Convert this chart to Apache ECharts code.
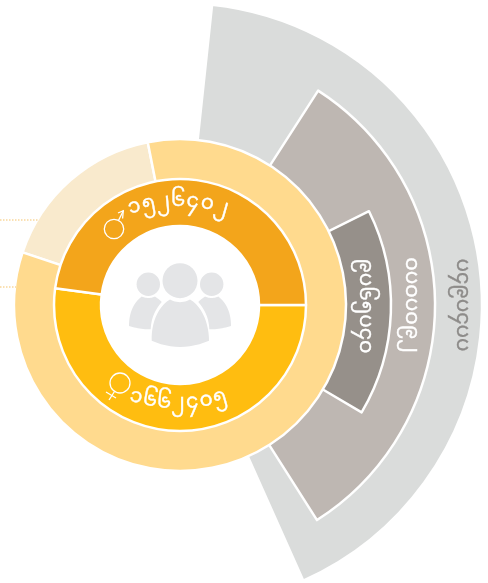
<!DOCTYPE html>
<html>
<head>
<meta charset="utf-8">
<style>html,body{margin:0;background:#fff}#echarts{width:488px;height:583px}</style>
<script src="https://cdn.jsdelivr.net/npm/echarts@6/dist/echarts.min.js"></script>
</head>
<body>
<div id="echarts"></div>
<script>
// inner ring: people by sex, labels are the values in Myanmar digits
var sexNames = ['male', 'female'];
var sexValues = [1526402, 1662405];
var maleLabel = '၁၅၂၆၄၀၂';
var femaleLabel = '၁၆၆၂၄၀၅';

// outer yellow ring, share in percent
var ringNames = ['pale', 'rest'];
var ringValues = [16.75, 83.25];

// grey fans on the right, span in degrees
var fanNames = ['outer', 'middle', 'inner'];
var fanSpans = [149.8, 114.7, 57];
var fanStarts = [6.1, 32.8, 63.6];
var fanOuter = [302, 255, 211];
var fanColors = ['#dadcdb', '#beb7b2', '#96908a'];
var fanLabels = ['ပ၄၉ပ၄ပပ', 'ဝပဝပဝ၉၂', '၉ပ၆၅ပ၄ဝ'];

var myChart = echarts.init(document.getElementById('echarts'));
var cx = 180, cy = 305;
var font = '"Noto Sans Myanmar","Noto Sans",sans-serif';

function ring(radius, start, items) {
    return {
        type: 'pie',
        silent: true,
        center: [cx, cy],
        radius: radius,
        startAngle: start,
        clockwise: true,
        label: {show: false},
        labelLine: {show: false},
        data: items
    };
}

function filled(color) {
    return {color: color, borderColor: '#fff', borderWidth: 2.5};
}

var series = [];
for (var i = 0; i < fanNames.length; i++) {
    series.push(ring([165, fanOuter[i]], 90 - fanStarts[i], [
        {name: fanNames[i], value: fanSpans[i], itemStyle: filled(fanColors[i])},
        {name: 'gap', value: 360 - fanSpans[i], itemStyle: {color: 'transparent', borderWidth: 0}}
    ]));
}
series.push(ring([125, 166], 90 - 288.5, [
    {name: ringNames[0], value: ringValues[0], itemStyle: filled('#f9eacd')},
    {name: ringNames[1], value: ringValues[1], itemStyle: filled('#ffda8e')}
]));
series.push(ring([79, 126], 0, [
    {name: sexNames[1], value: sexValues[1], itemStyle: filled('#ffbd10')},
    {name: sexNames[0], value: sexValues[0], itemStyle: filled('#f3a51b')}
]));

var graphic = [];

function glyph(c, x, y, rot, size, fill) {
    graphic.push({
        type: 'text', x: x, y: y, rotation: rot, silent: true, z: 10,
        style: {text: c, x: 0, y: 0, align: 'center', verticalAlign: 'middle', font: size + 'px ' + font, fill: fill, stroke: fill, lineWidth: 0.4}
    });
}

// labels that bend round the doughnut, one glyph at a time
function arcText(text, ax, ay, r, step, size, flip) {
    var chars = text.split('');
    for (var k = 0; k < chars.length; k++) {
        var t = (k - (chars.length - 1) / 2) * step;
        var a = t * Math.PI / 180;
        var x = ax + r * Math.sin(a);
        var y = flip ? ay + r * Math.cos(a) : ay - r * Math.cos(a);
        glyph(chars[k], x, y, flip ? a : -a, size, '#fff');
    }
}
arcText(maleLabel, 178, 360, 156, 5.3, 20, false);
arcText(femaleLabel, 178, 250, 156, 5.3, 20, true);

// labels on the fans read from top to bottom
glyph(fanLabels[0], 459, 305, -Math.PI / 2, 20, '#8d8b89');
glyph(fanLabels[1], 408, 305, -Math.PI / 2, 20, '#fff');
glyph(fanLabels[2], 362, 306, -Math.PI / 2, 20, '#fff');

// dotted leaders on the left
[[220, 38], [287, 16]].forEach(function (l) {
    graphic.push({
        type: 'line', silent: true, z: 10,
        shape: {x1: 0, y1: l[0], x2: l[1], y2: l[0]},
        style: {stroke: '#f9d79c', lineWidth: 1.5, lineDash: [1.5, 1.5]}
    });
});

// outline from cubic pieces, the graphic component has no pathData
function outlinePts(start, curves) {
    var pts = [start], p = start;
    curves.forEach(function (c) {
        for (var n = 1; n <= 12; n++) {
            var t = n / 12, u = 1 - t;
            pts.push([
                u * u * u * p[0] + 3 * u * u * t * c[0] + 3 * u * t * t * c[2] + t * t * t * c[4],
                u * u * u * p[1] + 3 * u * u * t * c[1] + 3 * u * t * t * c[3] + t * t * t * c[5]
            ]);
        }
        p = [c[4], c[5]];
    });
    return pts;
}

// people icon
var icon = '#e4e5e7';
[[180, 280.7, 17.5], [148.3, 284.3, 11.7], [211.7, 284.3, 11.7]].forEach(function (h) {
    graphic.push({type: 'circle', silent: true, z: 10, shape: {cx: h[0], cy: h[1], r: h[2]}, style: {fill: icon}});
});
var bigBody = outlinePts([170, 299.5], [
    [176, 303, 184, 303, 190, 299.5],
    [203, 307, 209, 325, 209, 340.7],
    [190, 349, 170, 349, 151.7, 340.7],
    [151, 325, 157, 307, 170, 299.5]
]);
var leftBody = outlinePts([141.7, 296.5], [
    [146, 298.5, 151, 298.5, 155, 296.5],
    [157, 298, 160, 300, 161.7, 302],
    [154, 311, 151, 320, 150.7, 329.3],
    [143, 329.5, 136, 328, 129, 326],
    [129, 315, 132, 304, 141.7, 296.5]
]);
var rightBody = leftBody.map(function (p) { return [360 - p[0], p[1]]; });
[bigBody, leftBody, rightBody].forEach(function (b) {
    graphic.push({type: 'polygon', silent: true, z: 10, shape: {points: b}, style: {fill: icon}});
});

// sex symbols
var mark = {fill: 'none', stroke: '#fff', lineWidth: 1.3};
graphic.push({type: 'circle', silent: true, z: 10, shape: {cx: 114, cy: 229, r: 9.7}, style: mark});
graphic.push({type: 'polyline', silent: true, z: 10, shape: {points: [[118.5, 220.5], [123.3, 210.7]]}, style: mark});
graphic.push({type: 'polyline', silent: true, z: 10, shape: {points: [[118, 213], [123.3, 210.7], [122.6, 218.5]]}, style: mark});
graphic.push({type: 'circle', silent: true, z: 10, shape: {cx: 120, cy: 383, r: 10}, style: mark});
graphic.push({type: 'polyline', silent: true, z: 10, shape: {points: [[114.5, 391.5], [109, 400]]}, style: mark});
graphic.push({type: 'polyline', silent: true, z: 10, shape: {points: [[106, 392], [116, 398]]}, style: mark});

var option = {
    animation: false,
    series: series,
    graphic: graphic
};
myChart.setOption(option);
</script>
</body>
</html>
